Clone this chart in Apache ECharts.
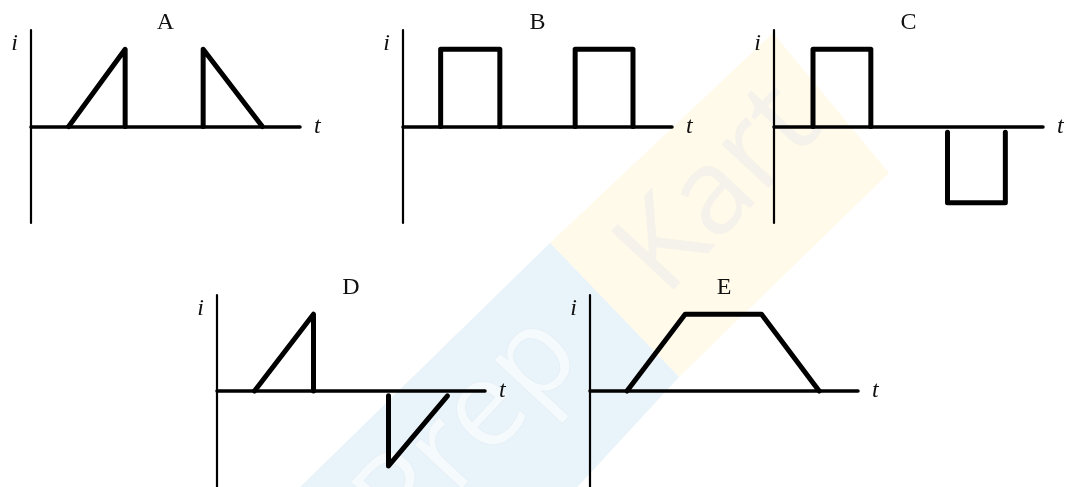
<!DOCTYPE html>
<html>
<head>
<meta charset="utf-8">
<script src="https://cdn.jsdelivr.net/npm/echarts@6/dist/echarts.min.js"></script>
<style>
  html, body { margin: 0; padding: 0; background: #ffffff; }
  #chart { width: 1067px; height: 487px; }
</style>
</head>
<body>
<div id="chart"></div>
<script>
// ---- Data (t, i); t axis 0..10, i axis -1..1 ----
const panelTitles = ['A', 'B', 'C', 'D', 'E'];
const xAxisLabel = 't';
const yAxisLabel = 'i';

const aWave1 = [[1.4, 0], [3.5, 0.8], [3.5, 0]];
const aWave2 = [[6.4, 0], [6.4, 0.8], [8.6, 0]];

const bWave1 = [[1.4, 0], [1.4, 0.8], [3.6, 0.8], [3.6, 0]];
const bWave2 = [[6.4, 0], [6.4, 0.8], [8.55, 0.8], [8.55, 0]];

const cWave1 = [[1.45, 0], [1.45, 0.8], [3.6, 0.8], [3.6, 0]];
const cWave2 = [[6.45, -0.06], [6.45, -0.79], [8.6, -0.79], [8.6, -0.06]];

const dWave1 = [[1.4, 0], [3.6, 0.8], [3.6, 0]];
const dWave2 = [[6.4, -0.05], [6.4, -0.78], [8.6, -0.05]];

const eWave1 = [[1.38, 0], [3.55, 0.8], [6.4, 0.8], [8.55, 0]];

const panelWaves = [
  [aWave1, aWave2],
  [bWave1, bWave2],
  [cWave1, cWave2],
  [dWave1, dWave2],
  [eWave1]
];

// ---- Layout ----
const grids = [
  { left: 31,  top: 30,  width: 269, height: 193 },
  { left: 403, top: 30,  width: 269, height: 193 },
  { left: 774, top: 30,  width: 269, height: 193 },
  { left: 217, top: 295, width: 268, height: 194 },
  { left: 590, top: 295, width: 268, height: 194 }
];

const serif = "'Liberation Serif', 'DejaVu Serif', serif";

const option = {
  backgroundColor: '#ffffff',
  animation: false,
  title: grids.map((g, k) => ({
    text: panelTitles[k],
    left: g.left + g.width / 2,
    top: g.top - 7,
    textAlign: 'center',
    textVerticalAlign: 'middle',
    padding: 0,
    textStyle: { fontFamily: serif, fontSize: 24, fontWeight: 'normal', color: '#111' }
  })),
  grid: grids.map(g => Object.assign({ containLabel: false }, g)),
  xAxis: grids.map((g, k) => ({
    type: 'value', gridIndex: k, min: 0, max: 10,
    axisLine: { onZero: true, lineStyle: { color: '#000', width: 3.5 } },
    axisTick: { show: false }, axisLabel: { show: false }, splitLine: { show: false },
    name: xAxisLabel, nameLocation: 'end', nameGap: 14,
    nameTextStyle: { fontFamily: serif, fontStyle: 'italic', fontSize: 24, color: '#111',
                     verticalAlign: 'middle', padding: [7, 0, 0, 0] }
  })),
  yAxis: grids.map((g, k) => ({
    type: 'value', gridIndex: k, min: -1, max: 1,
    axisLine: { onZero: true, lineStyle: { color: '#000', width: 2.2 } },
    axisTick: { show: false }, axisLabel: { show: false }, splitLine: { show: false },
    name: yAxisLabel, nameLocation: 'end', nameGap: -14,
    nameTextStyle: { fontFamily: serif, fontStyle: 'italic', fontSize: 24, color: '#111',
                     align: 'right', verticalAlign: 'middle', padding: [0, 13, 0, 0] }
  })),
  series: [],
  graphic: [
    { type: 'polygon', z: -10, silent: true,
      shape: { points: [[773, 33], [889, 173], [679, 377], [550, 243]] },
      style: { fill: '#fffaea' } },
    { type: 'polygon', z: -10, silent: true,
      shape: { points: [[550, 243], [679, 377], [570, 495], [292, 495]] },
      style: { fill: '#e9f3fa' } },
    { type: 'text', z: -9, silent: true, x: 470, y: 430, rotation: 0.82,
      style: { text: 'Prep', fontFamily: "'Open Sans', sans-serif", fontSize: 120,
               fill: 'rgba(255,255,255,0.55)', stroke: 'rgba(210,222,232,0.3)', lineWidth: 1,
               align: 'center', verticalAlign: 'middle' } },
    { type: 'text', z: -9, silent: true, x: 720, y: 190, rotation: 0.82,
      style: { text: 'Kart', fontFamily: "'Open Sans', sans-serif", fontSize: 120,
               fill: 'rgba(215,222,232,0.28)', align: 'center', verticalAlign: 'middle' } }
  ]
};

panelWaves.forEach((waves, k) => {
  waves.forEach(w => {
    option.series.push({
      type: 'line', xAxisIndex: k, yAxisIndex: k, data: w,
      showSymbol: false, symbol: 'none', silent: true,
      lineStyle: { color: '#000', width: 5, cap: 'round', join: 'round' },
      z: 5
    });
  });
});

const chart = echarts.init(document.getElementById('chart'), null, { renderer: 'canvas' });
chart.setOption(option);
</script>
</body>
</html>
